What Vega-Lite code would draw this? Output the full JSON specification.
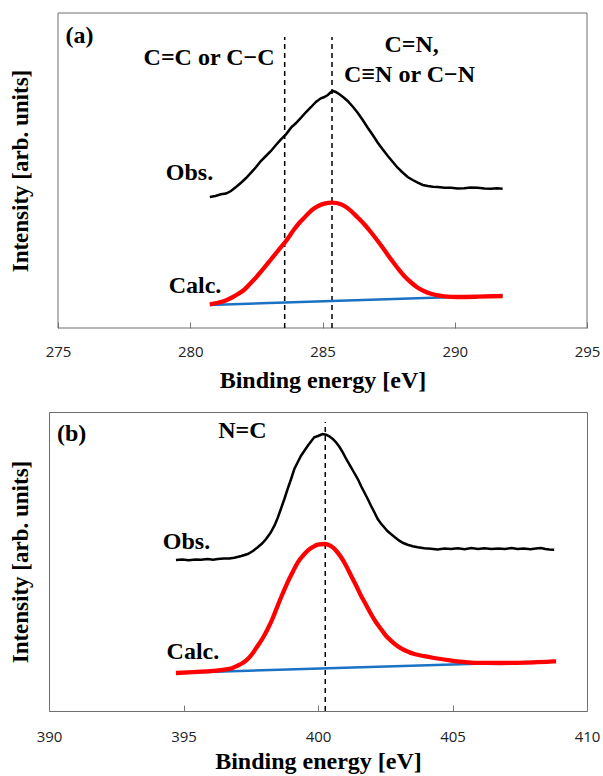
{
  "$schema": "https://vega.github.io/schema/vega-lite/v6.json",
  "padding": {"left": 8, "top": 12, "right": 0, "bottom": 0},
  "autosize": {"type": "pad"},
  "background": "white",
  "spacing": 19,
  "config": {
    "view": {"stroke": "#6e6e6e", "strokeWidth": 1},
    "axis": {"grid": false}
  },
  "datasets": {
    "frameA": [{"x1": 275, "x2": 295, "y1": 0, "y2": 315}],
    "obsA": [
      {"e": 280.74, "v": 131}, {"e": 280.95, "v": 132}, {"e": 281.16, "v": 133.7}, {"e": 281.35, "v": 134.5},
      {"e": 281.54, "v": 137}, {"e": 281.73, "v": 141}, {"e": 281.92, "v": 145.3}, {"e": 282.11, "v": 150},
      {"e": 282.30, "v": 155.3}, {"e": 282.49, "v": 161}, {"e": 282.67, "v": 167}, {"e": 282.86, "v": 172},
      {"e": 283.05, "v": 177}, {"e": 283.24, "v": 183}, {"e": 283.43, "v": 188.7}, {"e": 283.62, "v": 193.7},
      {"e": 283.81, "v": 200.3}, {"e": 284.00, "v": 205}, {"e": 284.19, "v": 210.3}, {"e": 284.38, "v": 216},
      {"e": 284.57, "v": 221}, {"e": 284.75, "v": 226}, {"e": 284.94, "v": 229.7}, {"e": 285.07, "v": 231},
      {"e": 285.20, "v": 233}, {"e": 285.30, "v": 235.5}, {"e": 285.39, "v": 237}, {"e": 285.50, "v": 236},
      {"e": 285.64, "v": 233.7}, {"e": 285.80, "v": 230.5}, {"e": 285.95, "v": 227}, {"e": 286.14, "v": 221.5},
      {"e": 286.33, "v": 215.3}, {"e": 286.52, "v": 208}, {"e": 286.71, "v": 200.3}, {"e": 286.90, "v": 193},
      {"e": 287.09, "v": 185.3}, {"e": 287.28, "v": 178.5}, {"e": 287.47, "v": 172}, {"e": 287.66, "v": 166},
      {"e": 287.84, "v": 160.3}, {"e": 288.03, "v": 155.5}, {"e": 288.22, "v": 151}, {"e": 288.41, "v": 148},
      {"e": 288.60, "v": 145.3}, {"e": 288.79, "v": 143}, {"e": 288.98, "v": 142}, {"e": 289.17, "v": 141.2},
      {"e": 289.36, "v": 141}, {"e": 289.61, "v": 140.3}, {"e": 289.86, "v": 140.3}, {"e": 290.11, "v": 139.5},
      {"e": 290.36, "v": 139.7}, {"e": 290.61, "v": 140.6}, {"e": 290.87, "v": 140.3}, {"e": 291.12, "v": 139.5},
      {"e": 291.37, "v": 139.3}, {"e": 291.60, "v": 139.8}, {"e": 291.81, "v": 139.3}
    ],
    "calcA": [
      {"e": 280.74, "v": 23.7}, {"e": 281.00, "v": 25}, {"e": 281.29, "v": 27}, {"e": 281.54, "v": 30},
      {"e": 281.79, "v": 33.7}, {"e": 282.05, "v": 38.5}, {"e": 282.30, "v": 45.3}, {"e": 282.55, "v": 52.5},
      {"e": 282.80, "v": 60.3}, {"e": 283.05, "v": 68.5}, {"e": 283.31, "v": 77}, {"e": 283.62, "v": 87},
      {"e": 283.93, "v": 98.7}, {"e": 284.12, "v": 105}, {"e": 284.31, "v": 110.3}, {"e": 284.50, "v": 115.5},
      {"e": 284.69, "v": 119.7}, {"e": 284.88, "v": 122.5}, {"e": 285.07, "v": 124.3}, {"e": 285.36, "v": 125.3},
      {"e": 285.70, "v": 123.7}, {"e": 285.89, "v": 121}, {"e": 286.08, "v": 117}, {"e": 286.33, "v": 110.5},
      {"e": 286.58, "v": 103.7}, {"e": 286.84, "v": 95.5}, {"e": 287.09, "v": 87}, {"e": 287.34, "v": 78},
      {"e": 287.59, "v": 68.7}, {"e": 287.84, "v": 60}, {"e": 288.09, "v": 52}, {"e": 288.35, "v": 45.5},
      {"e": 288.60, "v": 40.3}, {"e": 288.85, "v": 36.8}, {"e": 289.10, "v": 34.3}, {"e": 289.35, "v": 32.7},
      {"e": 289.60, "v": 31.7}, {"e": 290.11, "v": 31}, {"e": 290.87, "v": 31.3}, {"e": 291.81, "v": 32}
    ],
    "baseA": [{"e": 280.74, "v": 23}, {"e": 291.81, "v": 32.5}],
    "rulesA": [{"e": 283.57, "y1": 0, "y2": 291}, {"e": 285.36, "y1": 0, "y2": 291}],
    "textA": [
      {"e": 275.81, "v": 292, "label": "(a)"},
      {"e": 280.71, "v": 270.3, "label": "C=C or C−C"},
      {"e": 288.37, "v": 283, "label": "C=N,"},
      {"e": 288.29, "v": 253, "label": "C≡N or C−N"},
      {"e": 279.97, "v": 155, "label": "Obs."},
      {"e": 280.18, "v": 42, "label": "Calc."}
    ],
    "obsB": [
      {"e": 394.72, "v": 151}, {"e": 394.95, "v": 151.6}, {"e": 395.20, "v": 150.8}, {"e": 395.45, "v": 151.5},
      {"e": 395.65, "v": 151.3}, {"e": 395.90, "v": 151.9}, {"e": 396.10, "v": 151.2}, {"e": 396.27, "v": 152},
      {"e": 396.50, "v": 152.6}, {"e": 396.70, "v": 152.4}, {"e": 396.89, "v": 153.3}, {"e": 397.15, "v": 155},
      {"e": 397.39, "v": 157}, {"e": 397.58, "v": 160}, {"e": 397.76, "v": 163.7}, {"e": 397.92, "v": 167.5},
      {"e": 398.07, "v": 172}, {"e": 398.23, "v": 178}, {"e": 398.38, "v": 185.3}, {"e": 398.50, "v": 193},
      {"e": 398.62, "v": 202}, {"e": 398.75, "v": 212}, {"e": 398.87, "v": 222}, {"e": 399.00, "v": 232},
      {"e": 399.12, "v": 242}, {"e": 399.25, "v": 249}, {"e": 399.37, "v": 255.3}, {"e": 399.50, "v": 260.5},
      {"e": 399.62, "v": 265.3}, {"e": 399.74, "v": 269.5}, {"e": 399.86, "v": 273.7}, {"e": 400.00, "v": 275},
      {"e": 400.17, "v": 277}, {"e": 400.30, "v": 276.3}, {"e": 400.42, "v": 274.7}, {"e": 400.55, "v": 272},
      {"e": 400.67, "v": 268.7}, {"e": 400.80, "v": 264}, {"e": 400.92, "v": 258.7}, {"e": 401.07, "v": 251},
      {"e": 401.23, "v": 243.7}, {"e": 401.35, "v": 238}, {"e": 401.48, "v": 232}, {"e": 401.60, "v": 225},
      {"e": 401.72, "v": 218.7}, {"e": 401.85, "v": 212}, {"e": 401.97, "v": 205.3}, {"e": 402.10, "v": 198.5},
      {"e": 402.22, "v": 192}, {"e": 402.34, "v": 187.5}, {"e": 402.46, "v": 183.7}, {"e": 402.58, "v": 180},
      {"e": 402.71, "v": 177}, {"e": 402.87, "v": 173.5}, {"e": 403.02, "v": 170.3}, {"e": 403.17, "v": 168},
      {"e": 403.33, "v": 166.3}, {"e": 403.52, "v": 164.8}, {"e": 403.71, "v": 163.7}, {"e": 403.95, "v": 162.7},
      {"e": 404.20, "v": 162.2}, {"e": 404.45, "v": 161.6}, {"e": 404.70, "v": 162.5}, {"e": 404.94, "v": 162},
      {"e": 405.20, "v": 162.8}, {"e": 405.45, "v": 161.8}, {"e": 405.70, "v": 162.9}, {"e": 405.95, "v": 162.1},
      {"e": 406.18, "v": 162.7}, {"e": 406.45, "v": 161.9}, {"e": 406.70, "v": 162.6}, {"e": 406.95, "v": 162},
      {"e": 407.20, "v": 162.9}, {"e": 407.42, "v": 162}, {"e": 407.65, "v": 162.5}, {"e": 407.90, "v": 161.8},
      {"e": 408.10, "v": 162.4}, {"e": 408.29, "v": 163}, {"e": 408.45, "v": 162}, {"e": 408.60, "v": 161.5},
      {"e": 408.78, "v": 161.3}
    ],
    "calcB": [
      {"e": 394.72, "v": 38}, {"e": 395.20, "v": 38.6}, {"e": 395.65, "v": 39.3}, {"e": 396.10, "v": 40.2},
      {"e": 396.52, "v": 41.3}, {"e": 396.80, "v": 42.8}, {"e": 397.01, "v": 45.3}, {"e": 397.20, "v": 48},
      {"e": 397.39, "v": 52}, {"e": 397.58, "v": 58}, {"e": 397.76, "v": 65.3}, {"e": 397.95, "v": 73},
      {"e": 398.13, "v": 82}, {"e": 398.32, "v": 93}, {"e": 398.50, "v": 105.3}, {"e": 398.68, "v": 117},
      {"e": 398.87, "v": 128.7}, {"e": 399.06, "v": 139}, {"e": 399.25, "v": 148.7}, {"e": 399.43, "v": 155},
      {"e": 399.62, "v": 160.3}, {"e": 399.80, "v": 163.8}, {"e": 399.99, "v": 166.3}, {"e": 400.23, "v": 167},
      {"e": 400.40, "v": 166}, {"e": 400.55, "v": 163.7}, {"e": 400.70, "v": 159.5}, {"e": 400.86, "v": 153.7},
      {"e": 401.05, "v": 145}, {"e": 401.23, "v": 135.3}, {"e": 401.42, "v": 125.3}, {"e": 401.60, "v": 115.3},
      {"e": 401.79, "v": 106}, {"e": 401.97, "v": 97}, {"e": 402.15, "v": 89}, {"e": 402.34, "v": 82},
      {"e": 402.52, "v": 75.5}, {"e": 402.71, "v": 70.3}, {"e": 402.90, "v": 66}, {"e": 403.09, "v": 62.7},
      {"e": 403.33, "v": 59.5}, {"e": 403.58, "v": 57}, {"e": 403.95, "v": 54.8}, {"e": 404.32, "v": 53},
      {"e": 404.90, "v": 50.6}, {"e": 405.56, "v": 48.7}, {"e": 406.20, "v": 48.1}, {"e": 406.80, "v": 48},
      {"e": 407.40, "v": 48.2}, {"e": 408.04, "v": 48.7}, {"e": 408.50, "v": 49.2}, {"e": 408.85, "v": 49.7}
    ],
    "baseB": [{"e": 394.72, "v": 38}, {"e": 408.85, "v": 49.7}],
    "rulesB": [{"e": 400.27, "y1": 0, "y2": 289}],
    "textB": [
      {"e": 390.84, "v": 277, "label": "(b)"},
      {"e": 397.19, "v": 280.3, "label": "N=C"},
      {"e": 395.11, "v": 169, "label": "Obs."},
      {"e": 395.35, "v": 59, "label": "Calc."}
    ]
  },
  "vconcat": [
    {
      "width": 538,
      "height": 315,
      "view": {"stroke": null},
      "layer": [
        {
          "data": {"name": "frameA"},
          "mark": {"type": "rect", "fillOpacity": 0, "fill": "white", "stroke": "#6e6e6e", "strokeWidth": 1},
          "encoding": {
            "x": {
              "field": "x1", "type": "quantitative",
              "scale": {"domain": [275, 295], "range": [9, 538], "nice": false, "zero": false},
              "axis": {
                "title": "Binding energy [eV]", "values": [275, 280, 285, 290, 295],
                "domain": false, "tickSize": -6, "tickColor": "#777", "tickWidth": 1,
                "labelFont": "Open Sans", "labelFontSize": 15, "labelColor": "#222",
                "labelPadding": 22, "labelFlush": false, "labelOverlap": false,
                "titleFont": "Liberation Serif", "titleFontWeight": "bold", "titleFontSize": 24,
                "titleColor": "black", "titlePadding": 9
              }
            },
            "x2": {"field": "x2"},
            "y": {
              "field": "y1", "type": "quantitative",
              "scale": {"domain": [0, 315], "nice": false, "zero": false},
              "axis": {
                "title": "Intensity [arb. units]", "labels": false, "ticks": false, "domain": false,
                "titleFont": "Liberation Serif", "titleFontWeight": "bold", "titleFontSize": 23,
                "titleColor": "black", "titlePadding": 17
              }
            },
            "y2": {"field": "y2"}
          }
        },
        {
          "data": {"name": "rulesA"},
          "mark": {"type": "rule", "color": "black", "strokeWidth": 1.5, "strokeDash": [5, 4]},
          "encoding": {
            "x": {"field": "e", "type": "quantitative"},
            "y": {"field": "y1", "type": "quantitative"},
            "y2": {"field": "y2"}
          }
        },
        {
          "data": {"name": "baseA"},
          "mark": {"type": "line", "color": "#1a72c4", "strokeWidth": 2.5},
          "encoding": {"x": {"field": "e", "type": "quantitative"}, "y": {"field": "v", "type": "quantitative"}}
        },
        {
          "data": {"name": "calcA"},
          "mark": {"type": "line", "color": "#ff0000", "strokeWidth": 4.3, "interpolate": "monotone"},
          "encoding": {"x": {"field": "e", "type": "quantitative"}, "y": {"field": "v", "type": "quantitative"}}
        },
        {
          "data": {"name": "obsA"},
          "mark": {"type": "line", "color": "black", "strokeWidth": 2.5},
          "encoding": {"x": {"field": "e", "type": "quantitative"}, "y": {"field": "v", "type": "quantitative"}}
        },
        {
          "data": {"name": "textA"},
          "mark": {"type": "text", "font": "Liberation Serif", "fontWeight": "bold", "fontSize": 24, "baseline": "middle", "align": "center", "color": "black"},
          "encoding": {"x": {"field": "e", "type": "quantitative"}, "y": {"field": "v", "type": "quantitative"}, "text": {"field": "label"}}
        }
      ]
    },
    {
      "width": 538,
      "height": 299,
      "layer": [
        {
          "data": {"name": "rulesB"},
          "mark": {"type": "rule", "color": "black", "strokeWidth": 1.5, "strokeDash": [5, 4]},
          "encoding": {
            "x": {
              "field": "e", "type": "quantitative",
              "scale": {"domain": [390, 410], "nice": false, "zero": false},
              "axis": {
                "title": "Binding energy [eV]", "values": [390, 395, 400, 405, 410],
                "domain": false, "tickSize": -6, "tickColor": "#777", "tickWidth": 1,
                "labelFont": "Open Sans", "labelFontSize": 15, "labelColor": "#222",
                "labelPadding": 24, "labelFlush": false, "labelOverlap": false,
                "titleFont": "Liberation Serif", "titleFontWeight": "bold", "titleFontSize": 24,
                "titleColor": "black", "titlePadding": 5
              }
            },
            "y": {
              "field": "y1", "type": "quantitative",
              "scale": {"domain": [0, 299], "nice": false, "zero": false},
              "axis": {
                "title": "Intensity [arb. units]", "labels": false, "ticks": false, "domain": false,
                "titleFont": "Liberation Serif", "titleFontWeight": "bold", "titleFontSize": 23,
                "titleColor": "black", "titlePadding": 17
              }
            },
            "y2": {"field": "y2"}
          }
        },
        {
          "data": {"name": "baseB"},
          "mark": {"type": "line", "color": "#1a72c4", "strokeWidth": 2.5},
          "encoding": {"x": {"field": "e", "type": "quantitative"}, "y": {"field": "v", "type": "quantitative"}}
        },
        {
          "data": {"name": "calcB"},
          "mark": {"type": "line", "color": "#ff0000", "strokeWidth": 4.3, "interpolate": "monotone"},
          "encoding": {"x": {"field": "e", "type": "quantitative"}, "y": {"field": "v", "type": "quantitative"}}
        },
        {
          "data": {"name": "obsB"},
          "mark": {"type": "line", "color": "black", "strokeWidth": 2.5},
          "encoding": {"x": {"field": "e", "type": "quantitative"}, "y": {"field": "v", "type": "quantitative"}}
        },
        {
          "data": {"name": "textB"},
          "mark": {"type": "text", "font": "Liberation Serif", "fontWeight": "bold", "fontSize": 24, "baseline": "middle", "align": "center", "color": "black"},
          "encoding": {"x": {"field": "e", "type": "quantitative"}, "y": {"field": "v", "type": "quantitative"}, "text": {"field": "label"}}
        }
      ]
    }
  ]
}
